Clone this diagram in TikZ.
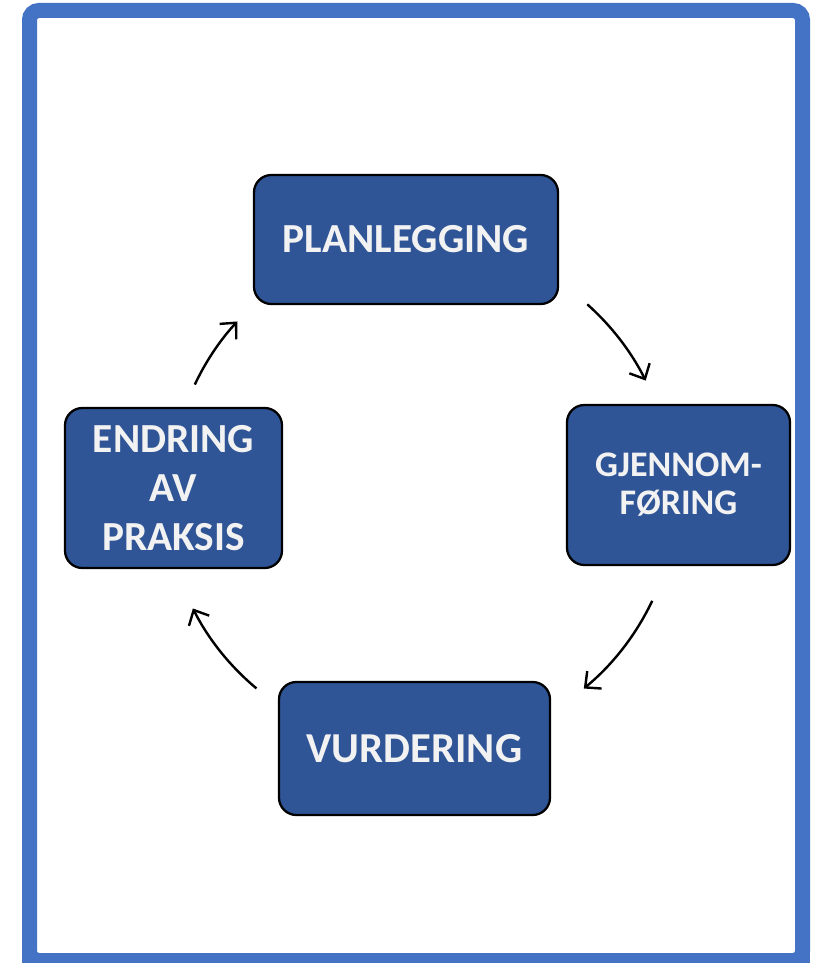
\documentclass[tikz,border=0pt]{standalone}
\usepackage{fontspec}
\setmainfont{Carlito}
\usetikzlibrary{arrows.meta,calc}
\definecolor{frameblue}{HTML}{4472C4}
\definecolor{boxblue}{HTML}{2F5597}
\definecolor{txtwhite}{HTML}{F2F2F2}
\begin{document}
\begin{tikzpicture}[x=0.75pt,y=-0.75pt,
  stagebox/.style={draw=black,line width=1.7pt,fill=boxblue,rounded corners=13pt,
    text=txtwhite,align=center,inner sep=0pt,font=\bfseries},
  cyclearrow/.style={line width=1.8pt,-{Straight Barb[length=9pt,width=17pt,line width=1.8pt]}}]
\useasboundingbox (0,0) rectangle (821,963);
\fill[white] (0,0) rectangle (821,963);
% frame
\draw[frameblue,line width=11.25pt,rounded corners=7pt] (29.5,10.5) rectangle (802.5,960.5);
\fill[frameblue] (22,953) rectangle (810,963);
% boxes
\node[stagebox,minimum width=304*0.75pt,minimum height=129*0.75pt,
  font=\bfseries\fontsize{31}{36}\selectfont] (plan) at (406,239.5) {PLANLEGGING};
\node[stagebox,minimum width=223*0.75pt,minimum height=160*0.75pt,
  font=\bfseries\fontsize{27}{28.5}\selectfont] (gjen) at (678.5,485) {GJENNOM-\\FØRING};
\node[stagebox,minimum width=217*0.75pt,minimum height=160*0.75pt,
  font=\bfseries\fontsize{31}{36.5}\selectfont] (endr) at (173.5,488) {ENDRING\\AV\\PRAKSIS};
\node[stagebox,minimum width=271*0.75pt,minimum height=133*0.75pt,
  font=\bfseries\fontsize{32}{36}\selectfont] (vurd) at (414.5,748.5) {VURDERING};
% arrows on a circle
\coordinate (ctr) at (421,491);
\coordinate (a1) at ($(ctr)+(-48.3:250)$);
\coordinate (a2) at ($(ctr)+(25.4:256)$);
\coordinate (a3) at ($(ctr)+(129.8:257)$);
\coordinate (a4) at ($(ctr)+(205.2:250)$);
\draw[cyclearrow] (a1) arc[start angle=-48.3,end angle=-26.6,radius=255];
\draw[cyclearrow] (a2) arc[start angle=25.4,end angle=50.5,radius=256];
\draw[cyclearrow] (a3) arc[start angle=129.8,end angle=153.2,radius=252];
\draw[cyclearrow] (a4) arc[start angle=205.2,end angle=222.7,radius=250];
\end{tikzpicture}
\end{document}
